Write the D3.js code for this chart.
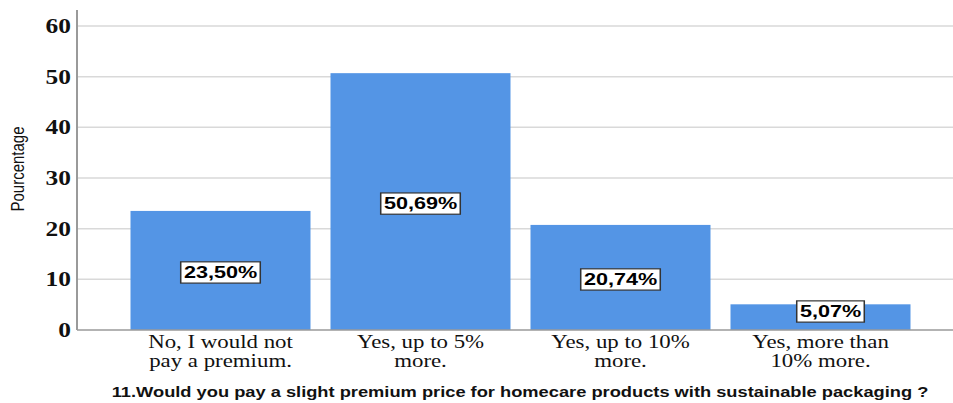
<!DOCTYPE html>
<html>
<head>
<meta charset="utf-8">
<script src="https://cdn.jsdelivr.net/npm/d3@7"></script>
<style>
  body { margin: 0; background: #fff; }
</style>
</head>
<body>
<div class="canvas"></div>
<script>
// data
const categories = [
    ['No, I would not', 'pay a premium.'],
    ['Yes, up to 5%', 'more.'],
    ['Yes, up to 10%', 'more.'],
    ['Yes, more than', '10% more.']
]
const values = [23.50, 50.69, 20.74, 5.07]
const yTicks = [0, 10, 20, 30, 40, 50, 60]
const xTitle = '11.Would you pay a slight premium price for homecare products with sustainable packaging ?'
const yTitle = 'Pourcentage'

const width = 953
const height = 403
// the original picture is stretched sideways, text too
const sx = 1.27

const svg = d3.select('.canvas')
    .append('svg')
    .attr('width', width)
    .attr('height', height)

const axisX = 77
const y = d3.scaleLinear()
    .domain([0, 60])
    .range([330, 26])

const x = d3.scaleBand()
    .domain(d3.range(values.length))
    .range([120.5, 920.5])
    .paddingInner(0.1)
    .paddingOuter(0.05)

// gridlines
svg.append('g')
    .selectAll('line')
    .data(yTicks.filter(d => d > 0))
    .enter()
    .append('line')
    .attr('x1', axisX)
    .attr('x2', width)
    .attr('y1', d => y(d))
    .attr('y2', d => y(d))
    .attr('stroke', '#d9d9d9')
    .attr('stroke-width', 1.5)

// bars
svg.append('g')
    .selectAll('rect')
    .data(values)
    .enter()
    .append('rect')
    .attr('x', (d, i) => x(i))
    .attr('width', x.bandwidth())
    .attr('y', d => y(d))
    .attr('height', d => y(0) - y(d))
    .attr('fill', '#5495e5')

// axes lines
svg.append('line')
    .attr('x1', axisX).attr('x2', axisX)
    .attr('y1', 10).attr('y2', y(0))
    .attr('stroke', '#9a9a9a')
    .attr('stroke-width', 2)
svg.append('line')
    .attr('x1', axisX).attr('x2', width)
    .attr('y1', y(0)).attr('y2', y(0))
    .attr('stroke', '#9a9a9a')
    .attr('stroke-width', 1.5)

// y tick labels
svg.append('g')
    .selectAll('text')
    .data(yTicks)
    .enter()
    .append('text')
    .attr('transform', d => `translate(71,${y(d)}) scale(${sx},1)`)
    .attr('dy', '0.35em')
    .attr('text-anchor', 'end')
    .attr('font-family', '"Liberation Serif", "Times New Roman", serif')
    .attr('font-weight', 'bold')
    .attr('font-size', 20)
    .attr('fill', '#111')
    .text(d => d)

// category labels
const catG = svg.append('g')
    .selectAll('text')
    .data(categories)
    .enter()
    .append('text')
    .attr('transform', (d, i) => `translate(${x(i) + x.bandwidth() / 2},348) scale(${sx},1)`)
    .attr('text-anchor', 'middle')
    .attr('font-family', '"Liberation Serif", "Times New Roman", serif')
    .attr('font-size', 18)
    .attr('fill', '#111')
catG.selectAll('tspan')
    .data(d => d)
    .enter()
    .append('tspan')
    .attr('x', 0)
    .attr('dy', (d, i) => i === 0 ? 0 : 19)
    .text(d => d)

// value labels with boxes (short bars: label nudged up and right, like spss)
const labelPos = (d, i) => {
    const short = y(0) - y(d) < 30
    const cx = x(i) + x.bandwidth() / 2 + (short ? 10 : 0)
    const cy = short ? y(0) - 19 : (y(d) + y(0)) / 2 + 1.5
    return `translate(${cx},${cy}) scale(${sx},1)`
}
const labels = svg.append('g')
    .selectAll('g')
    .data(values)
    .enter()
    .append('g')
    .attr('transform', labelPos)

labels.append('text')
    .attr('text-anchor', 'middle')
    .attr('dy', '0.36em')
    .attr('font-family', '"Liberation Sans", Arial, sans-serif')
    .attr('font-weight', 'bold')
    .attr('font-size', 17)
    .attr('fill', '#000')
    .text(d => d.toFixed(2).replace('.', ',') + '%')

labels.each(function () {
    const g = d3.select(this)
    const bb = g.select('text').node().getBBox()
    g.insert('rect', 'text')
        .attr('x', bb.x - 2.5)
        .attr('y', bb.y - 0.5)
        .attr('width', bb.width + 5)
        .attr('height', bb.height + 2)
        .attr('fill', '#fff')
        .attr('stroke', '#333')
        .attr('stroke-width', 1.2)
})

// titles
svg.append('text')
    .attr('transform', `translate(520,397) scale(${sx},1)`)
    .attr('text-anchor', 'middle')
    .attr('font-family', '"Liberation Sans", Arial, sans-serif')
    .attr('font-weight', 'bold')
    .attr('font-size', 14.4)
    .attr('fill', '#111')
    .text(xTitle)

svg.append('text')
    .attr('transform', `translate(24,169) scale(${sx},1) rotate(-90)`)
    .attr('text-anchor', 'middle')
    .attr('font-family', '"Liberation Sans", Arial, sans-serif')
    .attr('font-size', 15)
    .attr('fill', '#111')
    .text(yTitle)
</script>
</body>
</html>
